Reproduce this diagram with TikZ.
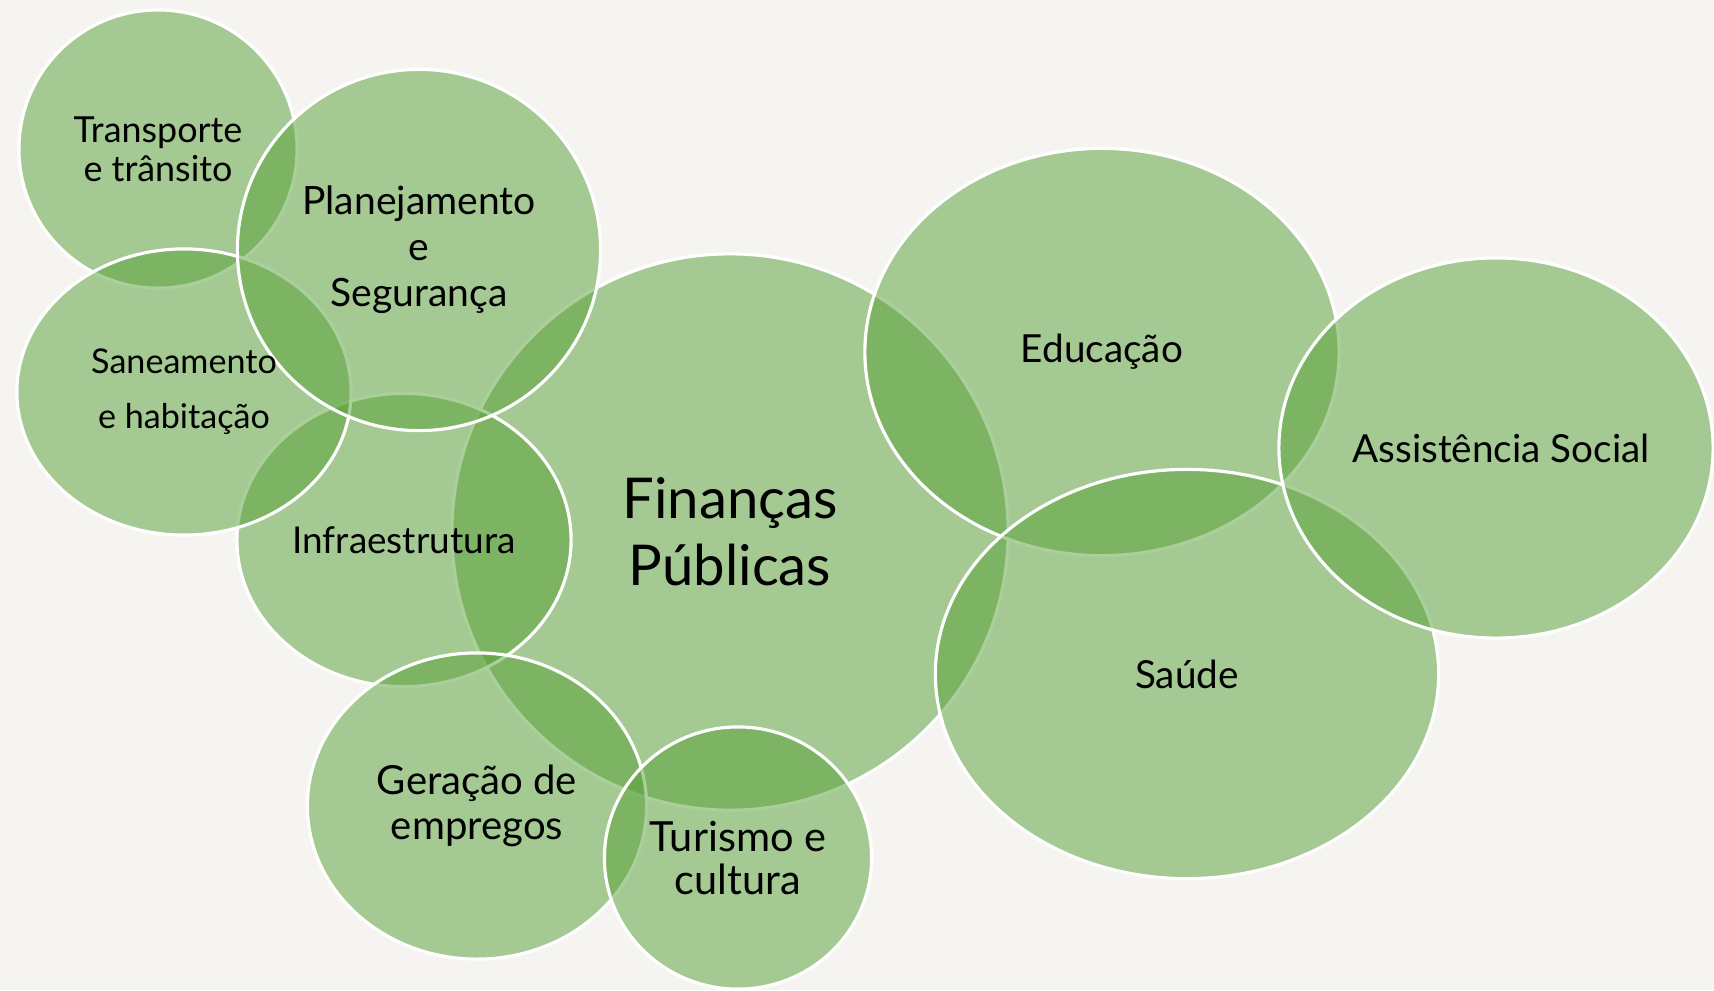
\documentclass[tikz,border=0pt]{standalone}
\usepackage{fontspec}
\setmainfont{Lato}
\usepackage{tikz}
\usetikzlibrary{shapes.geometric}
\definecolor{bgcol}{RGB}{245,244,240}
\definecolor{leaf}{RGB}{86,160,54}
\tikzset{>=latex}
\newcommand{\fs}[2]{\fontsize{#1}{#2}\selectfont}

\begin{document}
\begin{tikzpicture}[x=0.01cm, y=-0.01cm]
        % bubbles first, labels on top (fs = font size)
        \tikzstyle{bubble}=[ellipse, fill=leaf, fill opacity=0.5, draw=white, line width=0.9pt, inner sep=0pt, outer sep=0pt]
        \tikzstyle{lbl}=[align=center, text=black, inner sep=0pt]

        \fill[bgcol] (0,0) rectangle (1714,990);
        \useasboundingbox (0,0) rectangle (1714,990);

        \node[bubble, minimum width=5.56cm, minimum height=5.56cm] (fin) at (730,532) {};
        \node[bubble, minimum width=2.78cm, minimum height=2.78cm] (transp) at (158,149) {};
        \node[bubble, minimum width=3.34cm, minimum height=2.93cm] (infra) at (404,540) {};
        \node[bubble, minimum width=3.34cm, minimum height=2.86cm] (sane) at (184,392) {};
        \node[bubble, minimum width=3.63cm, minimum height=3.61cm] (plan) at (419,250) {};
        \node[bubble, minimum width=3.39cm, minimum height=3.06cm] (gera) at (477,806) {};
        \node[bubble, minimum width=2.67cm, minimum height=2.62cm] (tur) at (738,858) {};
        \node[bubble, minimum width=4.74cm, minimum height=4.07cm] (edu) at (1102,352) {};
        \node[bubble, minimum width=5.03cm, minimum height=4.09cm] (saude) at (1187,674) {};
        \node[bubble, minimum width=4.34cm, minimum height=3.80cm] (assist) at (1496,448) {};

        \node[lbl, font=\fs{16}{19}] (finT) at (fin) {Finanças\\Públicas};
        \node[lbl, font=\fs{10.2}{11.1}] (transpT) at (transp) {Transporte\\e trânsito};
        \node[lbl, font=\fs{10.5}{12}] (infraT) at (infra) {Infraestrutura};
        \node[lbl, font=\fs{9.7}{15.6}] (saneT) at (sane) {Saneamento\\e habitação};
        \node[lbl, font=\fs{11.1}{13.1}] (planT) at (plan) {Planejamento\\e\\Segurança};
        \node[lbl, font=\fs{11.4}{12.8}] (geraT) at (gera) {Geração de\\empregos};
        \node[lbl, font=\fs{11.8}{12.5}] (turT) at (tur) {Turismo e\\cultura};
        \node[lbl, font=\fs{11}{13}] (eduT) at (edu) {Educação};
        \node[lbl, font=\fs{11}{13}] (saudeT) at (saude) {Saúde};
        \node[lbl, font=\fs{11}{13}, xshift=0.05cm] (assistT) at (assist) {Assistência Social};
\end{tikzpicture}
\end{document}
